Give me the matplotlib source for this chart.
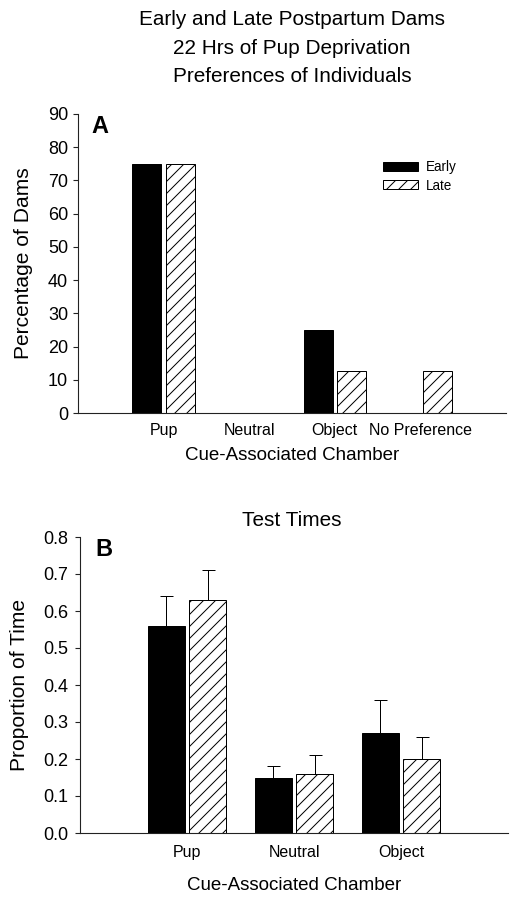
import matplotlib.pyplot as plt
import numpy as np

plt.rcParams['font.family'] = ['Liberation Sans', 'DejaVu Sans']
plt.rcParams['hatch.linewidth'] = 1.0
plt.rcParams['hatch.color'] = 'black'

# panel A: preferences of individuals (% of dams)
cats_a = ['Pup', 'Neutral', 'Object', 'No Preference']
early_a = [75, 0, 25, 0]
late_a = [75, 0, 12.5, 12.5]

# panel B: test times (proportion of time, upper SEM)
cats_b = ['Pup', 'Neutral', 'Object']
early_b = [0.56, 0.15, 0.27]
early_err = [0.08, 0.03, 0.09]
late_b = [0.63, 0.16, 0.20]
late_err = [0.08, 0.05, 0.06]

# at 72 dpi one point is one pixel
DPI = 72
FW, FH = 519, 900
fig = plt.figure(figsize=(FW / DPI, FH / DPI), dpi=DPI)

def box(l, t, r, b):
    return [l / FW, 1 - b / FH, (r - l) / FW, (b - t) / FH]

ax1 = fig.add_axes(box(78, 114, 506, 413))
ax2 = fig.add_axes(box(80, 537, 508, 833))

axcol = '#222222'

def style(ax, xpad, ypad):
    for s in ['top', 'right']:
        ax.spines[s].set_visible(False)
    for s in ['left', 'bottom']:
        ax.spines[s].set_linewidth(1.1)
        ax.spines[s].set_color(axcol)
    ax.tick_params(axis='x', length=0, labelsize=16, pad=xpad)
    ax.tick_params(axis='y', direction='out', length=5, width=1.1, color=axcol,
                   labelsize=18, pad=ypad)

bar_kw = dict(edgecolor='black', linewidth=1.0)

# ---- panel A
bw, off = 0.339, 0.196
x = np.arange(1, len(cats_a) + 1)
ax1.bar(x - off, early_a, bw, color='black', label='Early', **bar_kw)
ax1.bar(x + off, late_a, bw, color='white', hatch='//', label='Late', **bar_kw)
ax1.set_xlim(0, 5)
ax1.set_ylim(0, 90)
ax1.set_yticks(np.arange(0, 91, 10))
ax1.set_xticks(x)
ax1.set_xticklabels(cats_a)
style(ax1, 10, 5)
ax1.set_ylabel('Percentage of Dams', fontsize=21)
ax1.yaxis.set_label_coords(-0.104, 0.5)
ax1.set_xlabel('Cue-Associated Chamber', fontsize=18.7)
ax1.xaxis.set_label_coords(0.5, -0.114)
ax1.text(0.032, 0.997, 'A', transform=ax1.transAxes, fontsize=23.5, fontweight='bold', va='top')
ax1.legend(loc='upper left', bbox_to_anchor=(0.7126, 0.846), frameon=False, fontsize=13.5,
           handlelength=2.6, handleheight=0.67, labelspacing=0.33, handletextpad=0.6,
           borderpad=0, borderaxespad=0)

# ---- panel B
bw, off = 0.346, 0.194
xb = np.arange(1, len(cats_b) + 1)
ekw = dict(ecolor='black', elinewidth=1.0, capsize=6.5, capthick=1.0)
ax2.bar(xb - off, early_b, bw, color='black', yerr=[np.zeros(3), early_err], error_kw=ekw, **bar_kw)
ax2.bar(xb + off, late_b, bw, color='white', hatch='//', yerr=[np.zeros(3), late_err], error_kw=ekw, **bar_kw)
ax2.set_xlim(0, 4)
ax2.set_ylim(0, 0.8)
yt = np.arange(0, 0.81, 0.1)
ax2.set_yticks(yt)
ax2.set_yticklabels(['%.1f' % v for v in yt])
ax2.set_xticks(xb)
ax2.set_xticklabels(cats_b)
style(ax2, 12, 7)
ax2.set_ylabel('Proportion of Time', fontsize=21)
ax2.yaxis.set_label_coords(-0.120, 0.5)
ax2.set_xlabel('Cue-Associated Chamber', fontsize=18.7)
ax2.xaxis.set_label_coords(0.5, -0.149)
ax2.text(0.035, 0.997, 'B', transform=ax2.transAxes, fontsize=23.5, fontweight='bold', va='top')

# titles
for txt, yb in [('Early and Late Postpartum Dams', 25),
                ('22 Hrs of Pup Deprivation', 54),
                ('Preferences of Individuals', 82)]:
    fig.text(292 / FW, 1 - yb / FH, txt, ha='center', va='baseline', fontsize=20.8)
fig.text(292 / FW, 1 - 526 / FH, 'Test Times', ha='center', va='baseline', fontsize=20.8)

fig.savefig('out.png', dpi=DPI)
